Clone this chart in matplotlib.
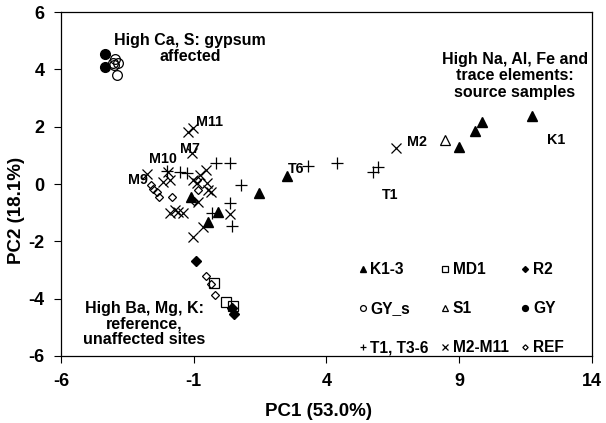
import matplotlib
matplotlib.use("Agg")
import matplotlib.pyplot as plt

plt.rcParams['font.family'] = ['Liberation Sans', 'DejaVu Sans']
plt.rcParams['font.weight'] = 'bold'
plt.rcParams['axes.unicode_minus'] = False

# sample groups
k13_x = [-1.10, -0.08, -0.45, 1.46, 2.50, 9.00, 9.59, 9.87, 11.75]
k13_y = [-0.44, -0.99, -1.31, -0.30, 0.28, 1.30, 1.86, 2.15, 2.38]
md1_x = [-0.24, 0.20, 0.47]
md1_y = [-3.46, -4.10, -4.25]
r2_x = [-0.92, 0.43, 0.52]
r2_y = [-2.67, -4.34, -4.55]
gys_x = [-3.97, -3.84, -4.00, -3.90, -4.05]
gys_y = [4.35, 4.23, 4.15, 3.80, 4.23]
s1_x = [8.46]
s1_y = [1.54]
gy_x = [-4.34, -4.34]
gy_y = [4.54, 4.07]
t_x = [-2.00, -1.52, -1.24, -0.15, 0.37, 0.80, 0.37, 0.45, -0.30, 3.31, 4.41, 5.76, 5.93]
t_y = [0.47, 0.43, 0.37, 0.73, 0.74, -0.04, -0.67, -1.46, -1.00, 0.63, 0.74, 0.43, 0.58]
m_x = [-1.21, -1.04, -1.08, -1.95, -2.75, -0.55, -0.76, -1.02, -1.89, -2.15, -0.89,
       -0.51, -0.35, -0.45, -1.89, -1.58, -1.39, -1.71, -0.83, 0.37, -0.64, -1.02, 6.62]
m_y = [1.83, 1.94, 1.09, 0.43, 0.35, 0.49, 0.31, 0.14, 0.14, 0.08, 0.02,
       0.02, -0.27, -0.21, -1.02, -0.97, -1.02, -0.91, -0.62, -1.05, -1.49, -1.84, 1.24]
ref_x = [-2.62, -2.52, -2.40, -2.30, -1.83, -0.89, -0.83, -1.00, -0.54, -0.35, -0.19]
ref_y = [-0.05, -0.18, -0.27, -0.44, -0.44, 0.14, -0.21, -0.60, -3.21, -3.49, -3.87]

x_ticks = [-6, -1, 4, 9, 14]
y_ticks = [-6, -4, -2, 0, 2, 4, 6]

fig = plt.figure(figsize=(6.06, 4.23), dpi=100)
ax = fig.add_axes([0.1007, 0.1584, 0.8756, 0.8132])

ms = 7
mw = 0.9
h = {}
h['K1-3'], = ax.plot(k13_x, k13_y, '^', ms=ms, color='black', ls='none')
h['MD1'], = ax.plot(md1_x, md1_y, 's', ms=6.5, mfc='none', mec='black', mew=mw, ls='none')
h['R2'], = ax.plot(r2_x, r2_y, 'D', ms=5, color='black', ls='none')
h['GY_s'], = ax.plot(gys_x, gys_y, 'o', ms=ms, mfc='none', mec='black', mew=mw, ls='none')
h['S1'], = ax.plot(s1_x, s1_y, '^', ms=ms, mfc='none', mec='black', mew=mw, ls='none')
h['GY'], = ax.plot(gy_x, gy_y, 'o', ms=ms, color='black', ls='none')
h['T1, T3-6'], = ax.plot(t_x, t_y, '+', ms=ms + 1, color='black', mew=mw, ls='none')
h['M2-M11'], = ax.plot(m_x, m_y, 'x', ms=ms, color='black', mew=mw, ls='none')
h['REF'], = ax.plot(ref_x, ref_y, 'D', ms=4.5, mfc='none', mec='black', mew=mw, ls='none')

# point labels
for txt, x, y in [('M11', -0.39, 2.17), ('M7', -1.14, 1.21), ('M10', -2.15, 0.86),
                  ('M9', -3.10, 0.14), ('T6', 2.87, 0.51), ('T1', 6.39, -0.38),
                  ('M2', 7.40, 1.48), ('K1', 12.67, 1.54)]:
    ax.text(x, y, txt, fontsize=10.3, fontweight='bold', ha='center', va='center')

ax.text(-1.14, 4.73, 'High Ca, S: gypsum\naffected', fontsize=11.5,
        ha='center', va='center', linespacing=1.1)
ax.text(11.10, 3.77, 'High Na, Al, Fe and\ntrace elements:\nsource samples',
        fontsize=11.5, ha='center', va='center', linespacing=1.1)
ax.text(-2.855, -4.89, 'High Ba, Mg, K:\nreference,\nunaffected sites',
        fontsize=11.5, ha='center', va='center', linespacing=1.05)

order = ['K1-3', 'GY_s', 'T1, T3-6', 'MD1', 'S1', 'M2-M11', 'R2', 'GY', 'REF']
ax.legend([h[k] for k in order], order, ncol=3, frameon=False, fontsize=11.2,
          loc='lower right', bbox_to_anchor=(0.968, -0.03), markerscale=0.6,
          handlelength=0.6, handletextpad=0.2, columnspacing=0.75,
          labelspacing=1.55, borderpad=0.2)

ax.set_xlim(-6, 14)
ax.set_ylim(-6, 6)
ax.set_xticks(x_ticks)
ax.set_yticks(y_ticks)
ax.tick_params(direction='out', length=5, width=0.8, labelsize=13, pad=7,
               top=False, right=False)
for s in ax.spines.values():
    s.set_linewidth(0.9)

ax.set_xlabel('PC1 (53.0%)', fontsize=13.5, fontweight='bold')
ax.set_ylabel('PC2 (18.1%)', fontsize=13.5, fontweight='bold')
ax.xaxis.set_label_coords(0.486, -0.138)
ax.yaxis.set_label_coords(-0.068, 0.424)

fig.savefig('out.png', dpi=100)
